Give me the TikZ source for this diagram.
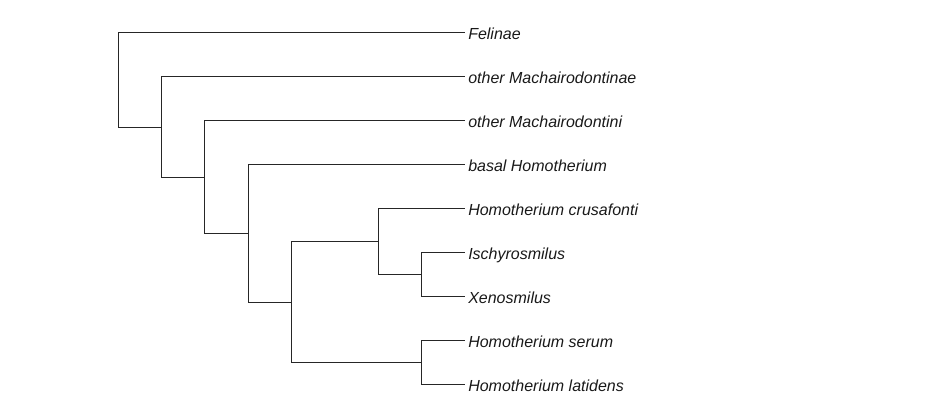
\documentclass[tikz,border=0pt]{standalone}
\usepackage{fontspec}
\setmainfont{Liberation Sans}

\begin{document}
\begin{tikzpicture}[x=0.75pt, y=-0.75pt,
    % Styles
    branch/.style={line width=0.75pt, color=black!85},
    taxon/.style={anchor=west, inner sep=2.25pt, text=black!90,
                  font=\itshape\fontsize{12}{14}\selectfont,
                  text height=11pt, text depth=0.5pt},
  ]
  \useasboundingbox (0,0) rectangle (936,420);

  % Taxa (tips)
  \node[taxon] (felinae)    at (465, 33)  {Felinae};
  \node[taxon] (othermach)  at (465, 77)  {other Machairodontinae};
  \node[taxon] (othermachi) at (465, 121) {other Machairodontini};
  \node[taxon] (basalhom)   at (465, 165) {basal Homotherium};
  \node[taxon] (crusafonti) at (465, 209) {Homotherium crusafonti};
  \node[taxon] (ischyro)    at (465, 253) {Ischyrosmilus};
  \node[taxon] (xenosmil)   at (465, 297) {Xenosmilus};
  \node[taxon] (serum)      at (465, 341) {Homotherium serum};
  \node[taxon] (latidens)   at (465, 385) {Homotherium latidens};

  % Internal nodes
  \coordinate (nroot) at (118.3, 80.1);
  \coordinate (nmach) at (161.5, 127.2);
  \coordinate (nmachi) at (204.8, 177.4);
  \coordinate (nhomo) at (248.2, 233.8);
  \coordinate (nlate) at (291.5, 302.5);
  \coordinate (ncrus) at (378.3, 242);
  \coordinate (nxeno) at (421.7, 275);
  \coordinate (nser) at (421.7, 363);

  % Branches
  \draw[branch] (nroot) |- (felinae.west);
  \draw[branch] (nroot) |- (nmach);
  \draw[branch] (nmach) |- (othermach.west);
  \draw[branch] (nmach) |- (nmachi);
  \draw[branch] (nmachi) |- (othermachi.west);
  \draw[branch] (nmachi) |- (nhomo);
  \draw[branch] (nhomo) |- (basalhom.west);
  \draw[branch] (nhomo) |- (nlate);
  \draw[branch] (nlate) |- (ncrus);
  \draw[branch] (nlate) |- (nser);
  \draw[branch] (ncrus) |- (crusafonti.west);
  \draw[branch] (ncrus) |- (nxeno);
  \draw[branch] (nxeno) |- (ischyro.west);
  \draw[branch] (nxeno) |- (xenosmil.west);
  \draw[branch] (nser) |- (serum.west);
  \draw[branch] (nser) |- (latidens.west);

\end{tikzpicture}
\end{document}
